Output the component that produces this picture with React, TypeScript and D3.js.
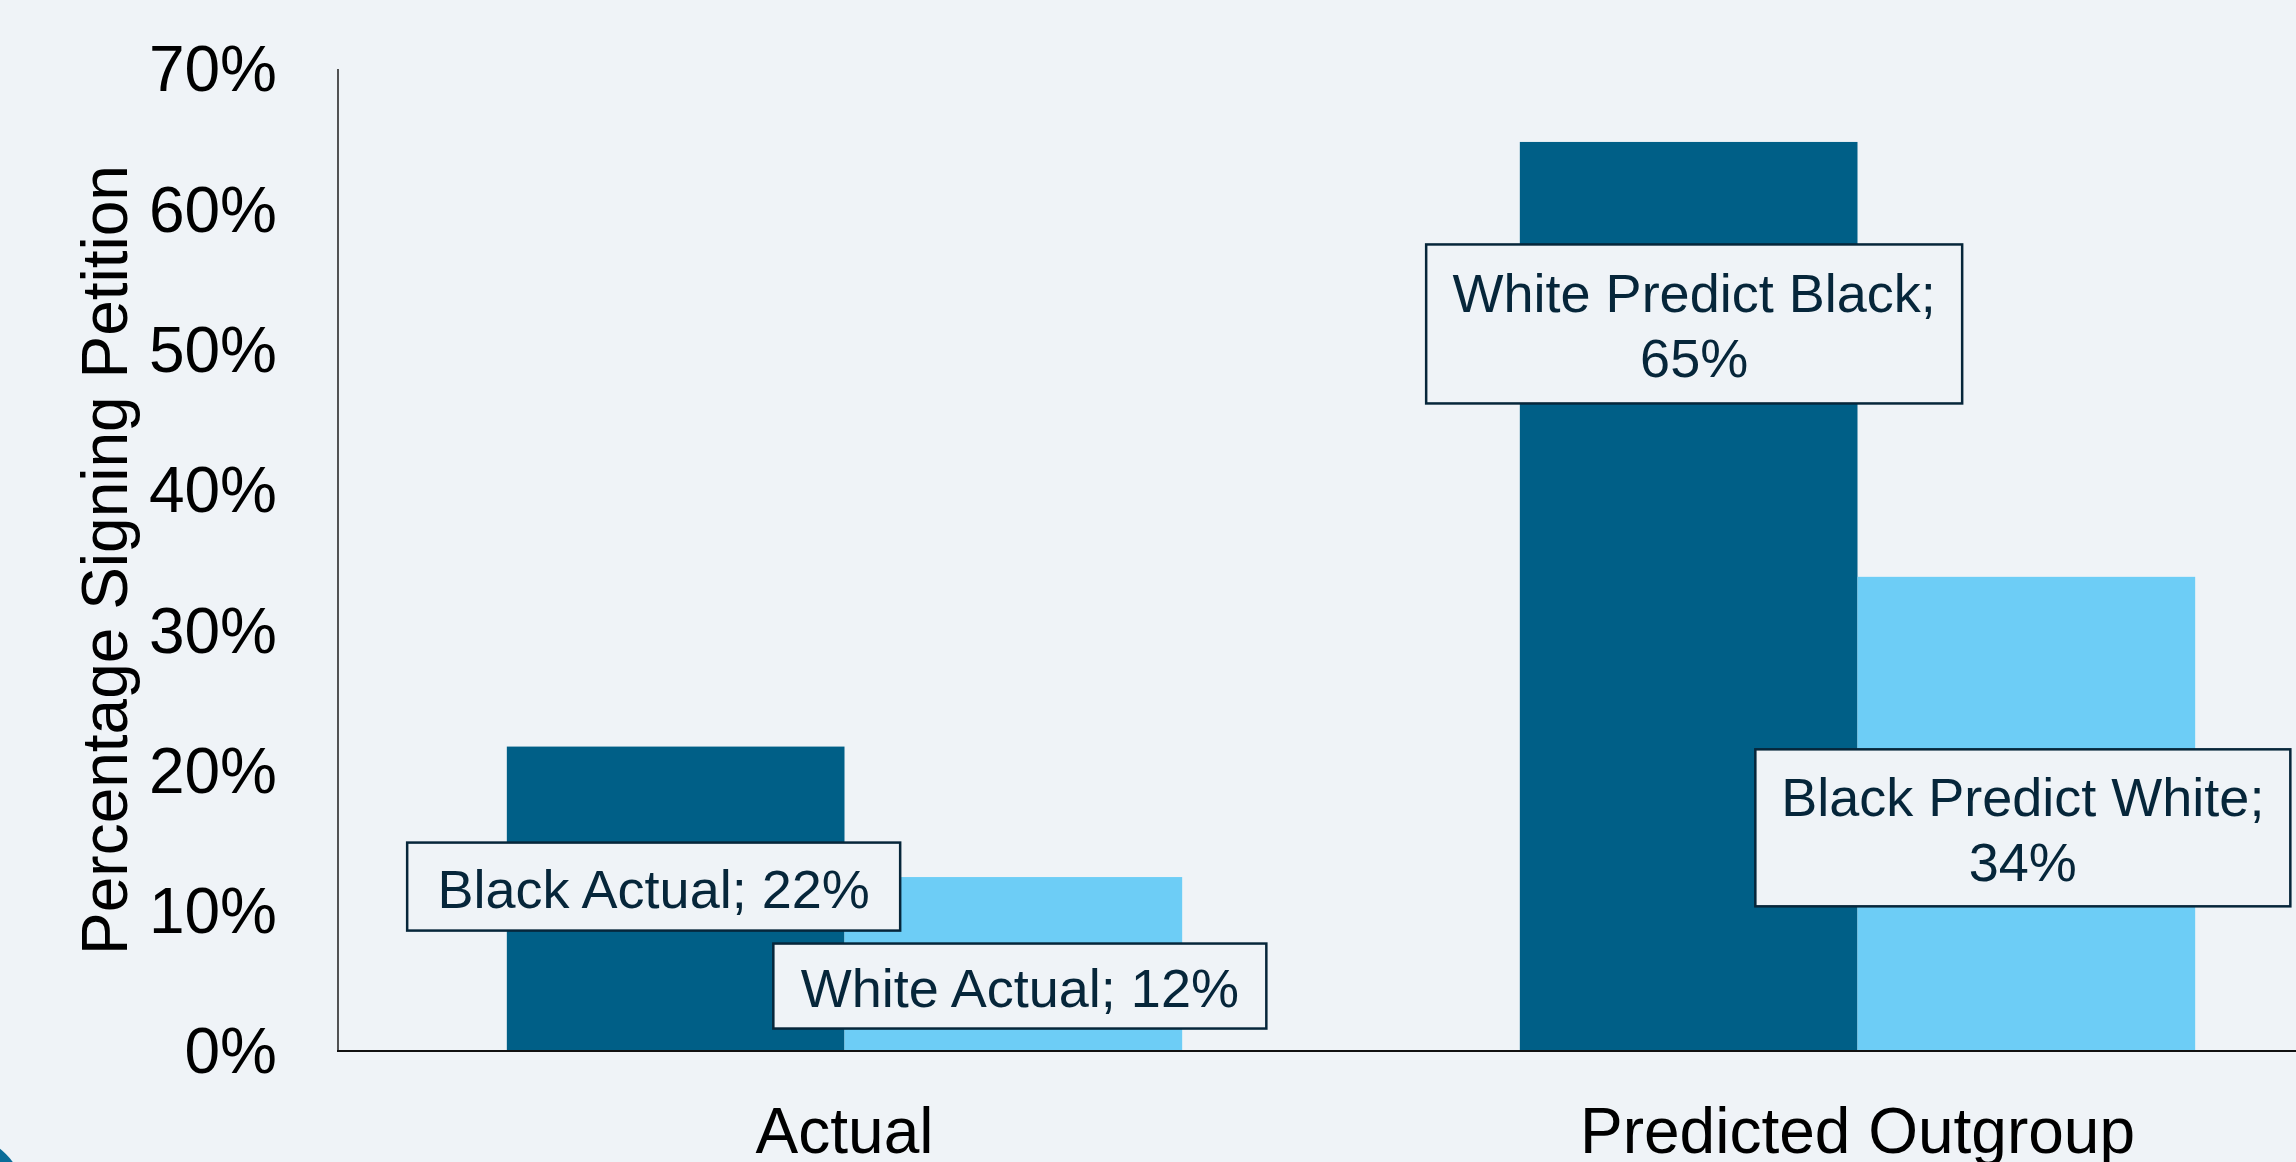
import React from "react";
import * as d3 from "d3";

// ---- Data ----
const categories: string[] = ["Actual", "Predicted Outgroup"];
const seriesNames: string[] = ["Black", "White"];
// values in percent, [category][series]
const actualValues: number[] = [21.7, 12.4];
const predictedValues: number[] = [64.8, 33.8];
const labelTexts: string[][] = [
  ["Black Actual; 22%"],
  ["White Actual; 12%"],
  ["White Predict Black;", "65%"],
  ["Black Predict White;", "34%"],
];
const yTicks: number[] = [0, 10, 20, 30, 40, 50, 60, 70];
const yAxisTitle = "Percentage Signing Petition";

// ---- Layout / style ----
const W = 2296;
const H = 1162;
const BG = "#EFF3F7";
const DARK = "#005F87";
const LIGHT = "#6DCDF6";
const NAVY = "#06263A";
const FONT = "'Liberation Sans', Arial, Helvetica, sans-serif";

// label box layout: offset of box centre from bar centre-x / bar top, and box size
const labelLayout = [
  { dx: -22, dy: 140, w: 493, h: 88 },
  { dx: 6.5, dy: 109, w: 493, h: 85 },
  { dx: 5.5, dy: 182, w: 536, h: 159 },
  { dx: -3.5, dy: 251, w: 535, h: 157 },
];

export default function App() {
  const plotLeft = 338;
  const plotBottom = 1051;
  const plotTop = 69;
  const bandStep = 1013;

  const x = d3
    .scaleBand<string>()
    .domain(categories)
    .range([plotLeft, plotLeft + bandStep * categories.length])
    .padding(0);
  const xInner = d3
    .scaleBand<string>()
    .domain(seriesNames)
    .range([0, x.bandwidth()])
    .paddingInner(0)
    .paddingOuter(0.5);
  const y = d3.scaleLinear().domain([0, 70]).range([plotBottom, plotTop]);

  const values = [actualValues, predictedValues];
  const bars: { cat: string; ser: string; v: number; idx: number }[] = [];
  categories.forEach((c, ci) =>
    seriesNames.forEach((s, si) => bars.push({ cat: c, ser: s, v: values[ci][si], idx: ci * 2 + si }))
  );

  return (
    <svg
      width={W}
      height={H}
      style={{ position: "absolute", left: 0, top: 0, display: "block" }}
      xmlns="http://www.w3.org/2000/svg"
    >
      <rect x={0} y={0} width={W} height={H} fill={BG} />

      {/* decorative corner */}
      <circle cx={-45} cy={1205} r={72} fill="#0A6D99" />

      {/* bars */}
      {bars.map((b) => {
        const bx = (x(b.cat) as number) + (xInner(b.ser) as number);
        return (
          <rect
            key={b.idx}
            x={bx}
            y={y(b.v)}
            width={xInner.bandwidth()}
            height={plotBottom - y(b.v)}
            fill={b.ser === "Black" ? DARK : LIGHT}
          />
        );
      })}

      {/* axes */}
      <line x1={plotLeft} x2={plotLeft} y1={plotTop} y2={plotBottom} stroke="#2a2a2a" strokeWidth={1.6} />
      <line x1={plotLeft - 1} x2={W} y1={plotBottom} y2={plotBottom} stroke="#111" strokeWidth={2} />

      {/* y tick labels */}
      {yTicks.map((t) => (
        <text
          key={t}
          x={277}
          y={y(t)}
          dy="0.35em"
          textAnchor="end"
          fontFamily={FONT}
          fontSize={64}
          fill="#000"
        >
          {d3.format(".0%")(t / 100)}
        </text>
      ))}

      {/* y axis title */}
      <text
        transform={`translate(127, ${(plotTop + plotBottom) / 2}) rotate(-90)`}
        textAnchor="middle"
        fontFamily={FONT}
        fontSize={64}
        fill="#000"
      >
        {yAxisTitle}
      </text>

      {/* category labels */}
      {categories.map((c) => (
        <text
          key={c}
          x={(x(c) as number) + x.bandwidth() / 2}
          y={1153}
          textAnchor="middle"
          fontFamily={FONT}
          fontSize={64}
          fill="#000"
        >
          {c}
        </text>
      ))}

      {/* data label boxes */}
      {bars.map((b) => {
        const L = labelLayout[b.idx];
        const cx = (x(b.cat) as number) + (xInner(b.ser) as number) + xInner.bandwidth() / 2 + L.dx;
        const cy = y(b.v) + L.dy;
        const lines = labelTexts[b.idx];
        const first = cy - ((lines.length - 1) * 65) / 2 + 21;
        return (
          <g key={"l" + b.idx}>
            <rect
              x={cx - L.w / 2}
              y={cy - L.h / 2}
              width={L.w}
              height={L.h}
              fill={BG}
              stroke={NAVY}
              strokeWidth={2.5}
            />
            {lines.map((ln, i) => (
              <text
                key={i}
                x={cx}
                y={first + i * 65}
                textAnchor="middle"
                fontFamily={FONT}
                fontSize={54}
                fill={NAVY}
              >
                {ln}
              </text>
            ))}
          </g>
        );
      })}
    </svg>
  );
}
